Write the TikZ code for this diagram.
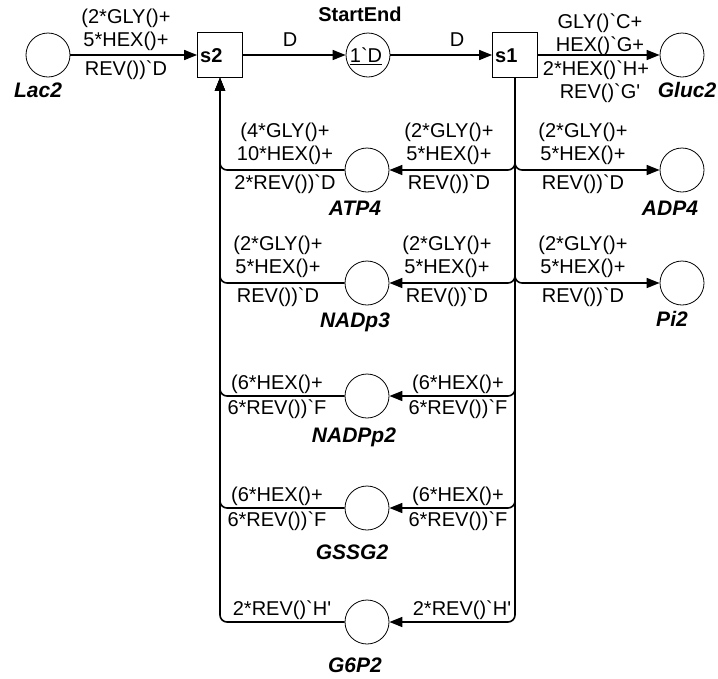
\documentclass[tikz,border=0pt]{standalone}
\usepackage{fontspec}
\setmainfont{Liberation Sans}[Ligatures=TeXOff]
\usetikzlibrary{arrows.meta}
\newcommand\bq{\symbol{96}}
\newcommand\sq{\symbol{39}}
\begin{document}
\begin{tikzpicture}[x=1pt,y=-1pt,
  place/.style={circle,draw,line width=0.8pt,minimum size=44pt,inner sep=0pt},
  trans/.style={rectangle,draw,line width=0.8pt,minimum size=45pt,inner sep=0pt},
  arc/.style={line width=1.6pt,-{Triangle[length=13pt,width=10pt]},rounded corners=7pt},
  lbl/.style={font=\fontsize{20}{23}\selectfont,inner sep=0pt,anchor=base},
  ctext/.style={font=\fontsize{20}{23}\selectfont,inner sep=0pt},
  pname/.style={font=\fontsize{21}{24}\selectfont\bfseries\itshape,inner sep=0pt},
  tname/.style={font=\fontsize{20}{23}\selectfont\bfseries,inner sep=0pt},
]
\useasboundingbox (0,0) rectangle (718,678);
% top row
\node[place] (Lac2) at (48,55) {};
\node[trans] (s2) at (220,55) {};
\node[place] (StartEnd) at (368,55) {};
\node[trans] (s1) at (515,55) {};
\node[place] (Gluc2) at (682,55) {};
\node[tname,anchor=west] (s2t) at (200,56) {s2};
\node[tname,anchor=west] (s1t) at (495,56) {s1};
\node[ctext] (m0) at (366,56) {\underline{1\bq D}};
\node[tname] (StartEndn) at (360,14) {StartEnd};
\node[pname] (Lac2n) at (38,90) {Lac2};
\node[pname] (Gluc2n) at (687,90) {Gluc2};
% left and right places
\node[place] (ATP4) at (367,170) {};
\node[place] (ADP4) at (682,170) {};
\node[place] (NADp3) at (367,283) {};
\node[place] (Pi2) at (682,283) {};
\node[place] (NADPp2) at (367,396) {};
\node[place] (GSSG2) at (367,508) {};
\node[place] (G6P2) at (367,622) {};
\node[pname] (ATP4n) at (355,208) {ATP4};
\node[pname] (ADP4n) at (670,208) {ADP4};
\node[pname] (NADp3n) at (355,322) {NADp3};
\node[pname] (Pi2n) at (672,319) {Pi2};
\node[pname] (NADPp2n) at (354,437) {NADPp2};
\node[pname] (GSSG2n) at (352,552) {GSSG2};
\node[pname] (G6P2n) at (355,665) {G6P2};
% arcs
\draw[arc] (Lac2) -- (s2);
\draw[arc] (s2) -- (StartEnd);
\draw[arc] (StartEnd) -- (s1);
\draw[arc] (s1) -- (Gluc2);
\draw[arc] (s1.south) |- (ATP4.east);
\draw[arc] (s1.south) |- (ADP4.west);
\draw[arc] (s1.south) |- (NADp3.east);
\draw[arc] (s1.south) |- (Pi2.west);
\draw[arc] (s1.south) |- (NADPp2.east);
\draw[arc] (s1.south) |- (GSSG2.east);
\draw[arc] (s1.south) |- (G6P2.east);
\draw[arc] (ATP4.west) -| (s2.south);
\draw[arc] (NADp3.west) -| (s2.south);
\draw[arc] (NADPp2.west) -| (s2.south);
\draw[arc] (GSSG2.west) -| (s2.south);
\draw[arc] (G6P2.west) -| (s2.south);
% arc labels: top row
\node[lbl] (a1) at (126,23) {(2*GLY()+};
\node[lbl] (a2) at (126,46) {5*HEX()+};
\node[lbl] (a3) at (126,75) {REV())\bq D};
\node[ctext] (b1) at (290,40) {D};
\node[ctext] (c1) at (457,40) {D};
\node[lbl] (g1) at (600,28) {GLY()\bq C+};
\node[lbl] (g2) at (600,51) {HEX()\bq G+};
\node[lbl] (g3) at (596,75) {2*HEX()\bq H+};
\node[lbl] (g4) at (600,98) {REV()\bq G\sq};
% ATP4 row
\node[lbl] (d1) at (285,137) {(4*GLY()+};
\node[lbl] (d2) at (285,160) {10*HEX()+};
\node[lbl] (d3) at (285,189) {2*REV())\bq D};
\node[lbl] (e1) at (449,137) {(2*GLY()+};
\node[lbl] (e2) at (449,160) {5*HEX()+};
\node[lbl] (e3) at (449,189) {REV())\bq D};
\node[lbl] (f1) at (583,137) {(2*GLY()+};
\node[lbl] (f2) at (583,160) {5*HEX()+};
\node[lbl] (f3) at (583,189) {REV())\bq D};
% NADp3 row
\node[lbl] (h1) at (278,250) {(2*GLY()+};
\node[lbl] (h2) at (278,273) {5*HEX()+};
\node[lbl] (h3) at (278,302) {REV())\bq D};
\node[lbl] (i1) at (447,250) {(2*GLY()+};
\node[lbl] (i2) at (447,273) {5*HEX()+};
\node[lbl] (i3) at (447,302) {REV())\bq D};
\node[lbl] (j1) at (583,250) {(2*GLY()+};
\node[lbl] (j2) at (583,273) {5*HEX()+};
\node[lbl] (j3) at (583,302) {REV())\bq D};
% NADPp2 row
\node[lbl] (k1) at (277,389) {(6*HEX()+};
\node[lbl] (k2) at (277,414) {6*REV())\bq F};
\node[lbl] (l1) at (458,389) {(6*HEX()+};
\node[lbl] (l2) at (458,414) {6*REV())\bq F};
% GSSG2 row
\node[lbl] (m1) at (277,501) {(6*HEX()+};
\node[lbl] (m2) at (277,526) {6*REV())\bq F};
\node[lbl] (n1) at (458,501) {(6*HEX()+};
\node[lbl] (n2) at (458,526) {6*REV())\bq F};
% G6P2 row
\node[lbl] (o1) at (282,615) {2*REV()\bq H\sq};
\node[lbl] (p1) at (462,615) {2*REV()\bq H\sq};
\end{tikzpicture}
\end{document}
